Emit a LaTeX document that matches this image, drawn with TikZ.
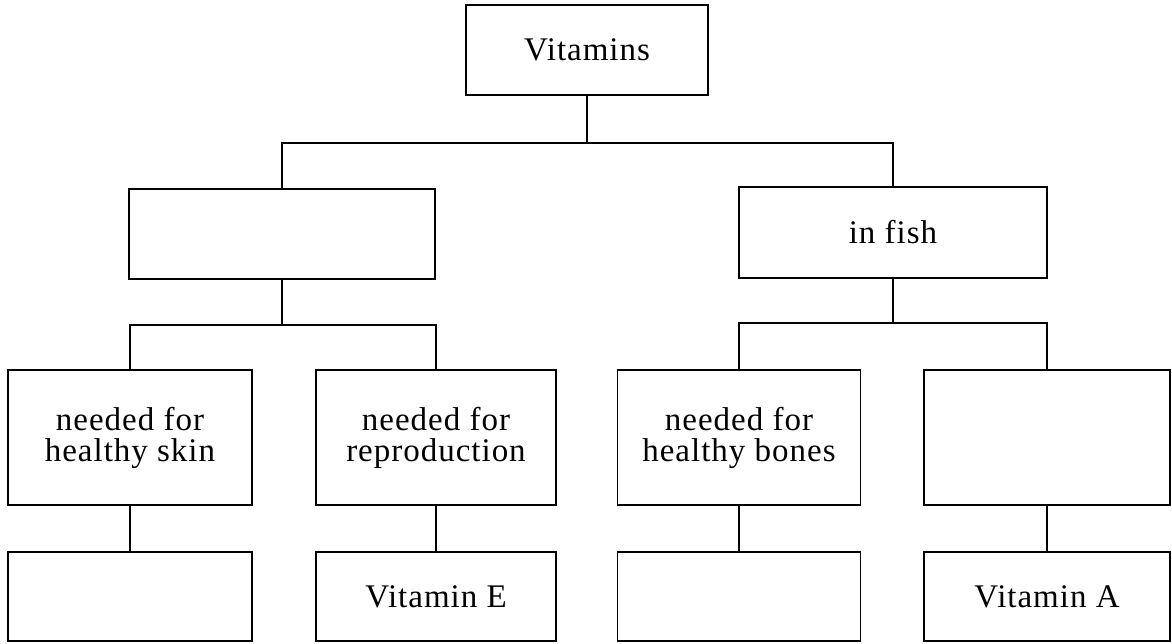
\documentclass[tikz,border=0pt]{standalone}
\usepackage{fontspec}
\setmainfont{Liberation Serif}[LetterSpace=3]
\begin{document}
\begin{tikzpicture}[x=1pt,y=-1pt,
  box/.style={draw=black,line width=1.3pt,rectangle,inner sep=0pt,align=center,
    font=\fontsize{33}{31}\selectfont},
  conn/.style={draw=black,line width=1.2pt}]
\useasboundingbox (0,0) rectangle (1172,643);
% level 1
\node[box,minimum width=242pt,minimum height=90pt] (top) at (587,50) {Vitamins};
% level 2
\node[box,minimum width=306pt,minimum height=90pt] (L) at (282,234) {};
\node[box,minimum width=308pt,minimum height=91pt] (R) at (893,232.5) {in fish};
% level 3
\node[box,minimum width=244pt,minimum height=135pt] (a) at (130,437.5) {needed for\\healthy skin};
\node[box,minimum width=240pt,minimum height=135pt] (b) at (436,437.5) {needed for\\reproduction};
\node[box,minimum width=243pt,minimum height=135pt] (c) at (739,437.5) {needed for\\healthy bones};
\node[box,minimum width=246pt,minimum height=135pt] (d) at (1047,437.5) {};
% level 4
\node[box,minimum width=244pt,minimum height=89pt] (a2) at (130,596.5) {};
\node[box,minimum width=240pt,minimum height=89pt] (b2) at (436,596.5) {Vitamin E};
\node[box,minimum width=243pt,minimum height=89pt] (c2) at (739,596.5) {};
\node[box,minimum width=246pt,minimum height=89pt] (d2) at (1047,596.5) {Vitamin A};
% junctions
\coordinate (j1) at (587,143);
\coordinate (jL) at (282,325);
\coordinate (jR) at (893,323);
% connectors
\draw[conn] (top.south) -- (j1);
\draw[conn] (L.north) |- (j1) -| (R.north);
\draw[conn] (L.south) -- (jL);
\draw[conn] (a.north) |- (jL) -| (b.north);
\draw[conn] (R.south) -- (jR);
\draw[conn] (c.north) |- (jR) -| (d.north);
\draw[conn] (a.south) -- (a2.north);
\draw[conn] (b.south) -- (b2.north);
\draw[conn] (c.south) -- (c2.north);
\draw[conn] (d.south) -- (d2.north);
\end{tikzpicture}
\end{document}
